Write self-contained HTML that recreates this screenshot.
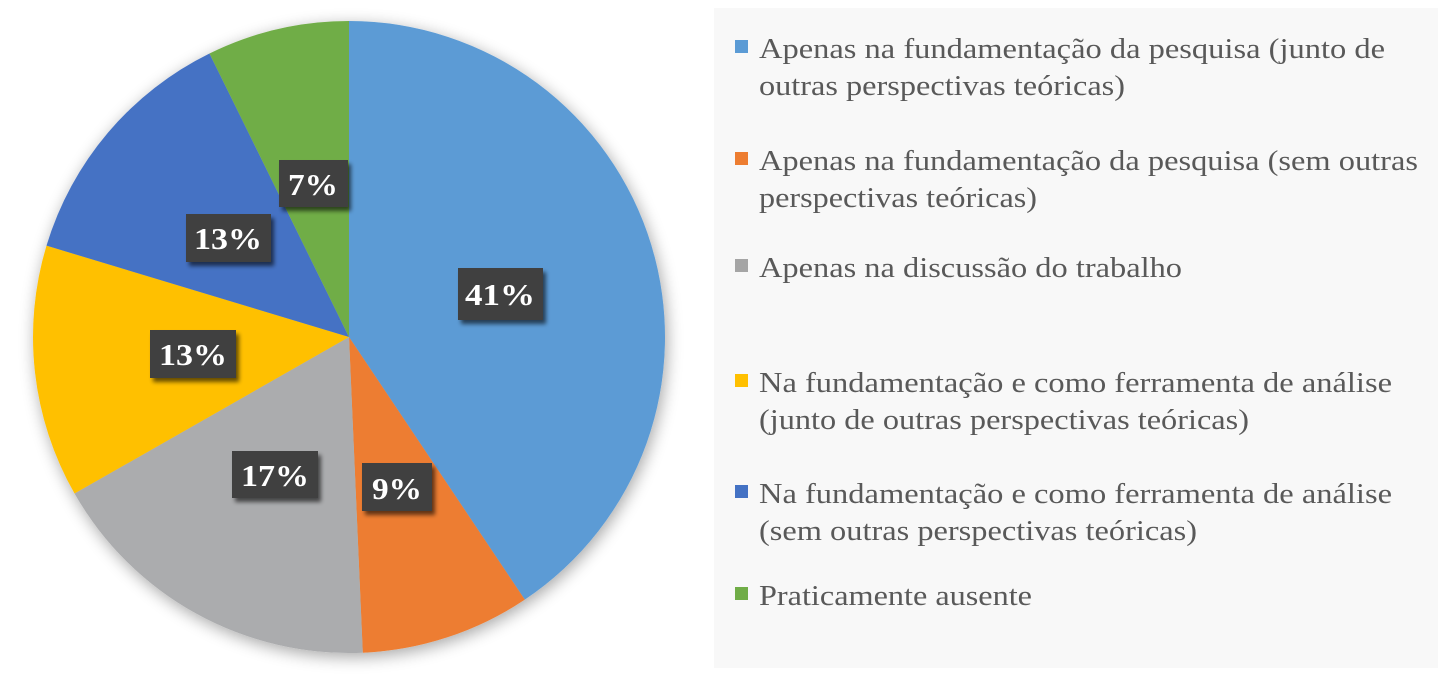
<!DOCTYPE html>
<html><head><meta charset="utf-8"><style>
html,body{margin:0;padding:0;background:#fff;}
svg{display:block;}
</style></head><body>
<svg width="1438" height="682" viewBox="0 0 1438 682" xmlns="http://www.w3.org/2000/svg">
<defs>
<filter id="sh" x="-20%" y="-20%" width="140%" height="140%"><feGaussianBlur in="SourceAlpha" stdDeviation="8"/><feOffset dx="2" dy="4"/><feComponentTransfer><feFuncA type="linear" slope="0.35"/></feComponentTransfer><feMerge><feMergeNode/><feMergeNode in="SourceGraphic"/></feMerge></filter>
<filter id="bs" x="-20%" y="-30%" width="150%" height="170%"><feGaussianBlur in="SourceAlpha" stdDeviation="2"/><feOffset dx="3" dy="4"/><feComponentTransfer><feFuncA type="linear" slope="0.6"/></feComponentTransfer><feMerge><feMergeNode/><feMergeNode in="SourceGraphic"/></feMerge></filter>
</defs>
<rect x="714" y="8" width="724" height="660" fill="#F8F8F8"/>
<g id="pie" filter="url(#sh)"></g>
<g id="lbl" font-family="'Liberation Serif', serif" font-weight="bold" font-size="31" fill="#fff" text-anchor="middle">
<g filter="url(#bs)">
<rect x="458" y="268" width="85" height="52" fill="#404040"/>
<rect x="279" y="160" width="69" height="47" fill="#404040"/>
<rect x="186" y="214" width="85" height="48" fill="#404040"/>
<rect x="150" y="330" width="86" height="48" fill="#404040"/>
<rect x="232" y="451" width="86" height="47" fill="#404040"/>
<rect x="362" y="463" width="70" height="48" fill="#404040"/>
</g>
<text x="500" y="305" textLength="70" lengthAdjust="spacingAndGlyphs">41%</text>
<text x="313" y="195" textLength="50" lengthAdjust="spacingAndGlyphs">7%</text>
<text x="228" y="249" textLength="68" lengthAdjust="spacingAndGlyphs">13%</text>
<text x="193" y="365" textLength="68" lengthAdjust="spacingAndGlyphs">13%</text>
<text x="275" y="486" textLength="68" lengthAdjust="spacingAndGlyphs">17%</text>
<text x="397" y="499" textLength="50" lengthAdjust="spacingAndGlyphs">9%</text>
</g>
<g font-family="'Liberation Serif', serif" font-size="29" fill="#595959">
<rect x="735" y="40" width="13" height="13" fill="#5B9BD5"/>
<text x="759" y="58" textLength="626" lengthAdjust="spacingAndGlyphs">Apenas na fundamentação da pesquisa (junto de</text>
<text x="759" y="95" textLength="366" lengthAdjust="spacingAndGlyphs">outras perspectivas teóricas)</text>
<rect x="735" y="152" width="13" height="13" fill="#ED7D31"/>
<text x="759" y="170" textLength="659" lengthAdjust="spacingAndGlyphs">Apenas na fundamentação da pesquisa (sem outras</text>
<text x="759" y="207" textLength="278" lengthAdjust="spacingAndGlyphs">perspectivas teóricas)</text>
<rect x="735" y="259" width="13" height="13" fill="#A5A5A5"/>
<text x="759" y="277" textLength="423" lengthAdjust="spacingAndGlyphs">Apenas na discussão do trabalho</text>
<rect x="735" y="374" width="13" height="13" fill="#FFC000"/>
<text x="759" y="392" textLength="633" lengthAdjust="spacingAndGlyphs">Na fundamentação e como ferramenta de análise</text>
<text x="759" y="429" textLength="490" lengthAdjust="spacingAndGlyphs">(junto de outras perspectivas teóricas)</text>
<rect x="735" y="485" width="13" height="13" fill="#4472C4"/>
<text x="759" y="503" textLength="633" lengthAdjust="spacingAndGlyphs">Na fundamentação e como ferramenta de análise</text>
<text x="759" y="540" textLength="438" lengthAdjust="spacingAndGlyphs">(sem outras perspectivas teóricas)</text>
<rect x="735" y="587" width="13" height="13" fill="#70AD47"/>
<text x="759" y="605" textLength="273" lengthAdjust="spacingAndGlyphs">Praticamente ausente</text>
</g>
</svg>
<script>
(function(){
var cx=349,cy=337,r=316;
var a=[0,146.2,177.5,240.3,286.8,333.8,360];
var c=["#5B9BD5","#ED7D31","#ABACAE","#FFC000","#4472C4","#70AD47"];
var g=document.getElementById('pie'),ns="http://www.w3.org/2000/svg";
function pt(d){var t=d*Math.PI/180;return [cx+r*Math.sin(t),cy-r*Math.cos(t)];}
for(var i=0;i<6;i++){var p1=pt(a[i]),p2=pt(a[i+1]),l=(a[i+1]-a[i])>180?1:0;
var e=document.createElementNS(ns,'path');
e.setAttribute('d','M'+cx+','+cy+' L'+p1[0].toFixed(2)+','+p1[1].toFixed(2)+' A'+r+','+r+' 0 '+l+' 1 '+p2[0].toFixed(2)+','+p2[1].toFixed(2)+' Z');
e.setAttribute('fill',c[i]);g.appendChild(e);}
})();
</script>
</body></html>
